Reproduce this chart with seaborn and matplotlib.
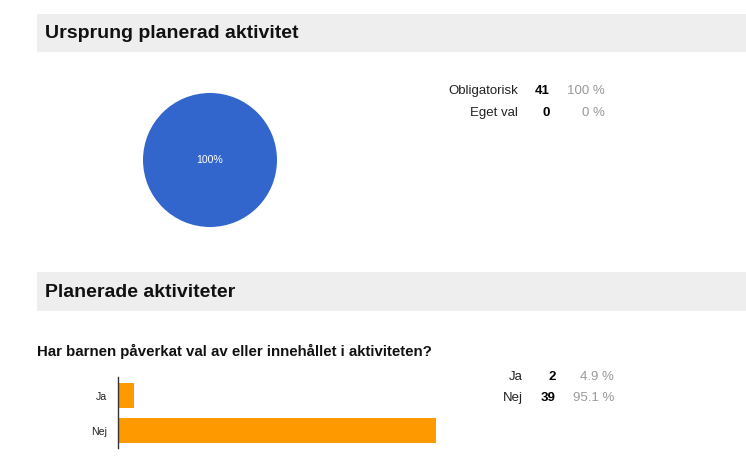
import matplotlib
matplotlib.use("Agg")
import matplotlib.pyplot as plt
from matplotlib.patches import Rectangle
import seaborn as sns
import pandas as pd

# ---- data ----
section1_title = "Ursprung planerad aktivitet"
origin_labels = ["Obligatorisk", "Eget val"]
origin_counts = [41, 0]
origin_pcts = ["100 %", "0 %"]

section2_title = "Planerade aktiviteter"
question = "Har barnen påverkat val av eller innehållet i aktiviteten?"
answer_labels = ["Ja", "Nej"]
answer_counts = [2, 39]
answer_pcts = ["4.9 %", "95.1 %"]

# ---- styling ----
sns.set_style("white")
plt.rcParams['font.family'] = ['Liberation Sans', 'DejaVu Sans']

W, H = 746, 466
DPI = 100
fig = plt.figure(figsize=(W / DPI, H / DPI), dpi=DPI)
fig.patch.set_facecolor("white")

def px(x, y):
    return x / W, 1 - y / H

def pt(p):
    return p * 72 / DPI

def axes_px(left, top, right, bottom):
    return fig.add_axes([left / W, 1 - bottom / H, (right - left) / W, (bottom - top) / H])

# section bands
for top, bot in [(14, 52), (272, 311)]:
    fig.patches.append(Rectangle((37 / W, 1 - bot / H), (W - 37) / W, (bot - top) / H,
                                 transform=fig.transFigure, facecolor="#eeeeee",
                                 edgecolor="none", zorder=0))

fig.text(*px(45, 33.5), section1_title, fontsize=pt(19.5), fontweight="bold",
         va="center", ha="left", color="#111111")
fig.text(*px(45, 292.5), section2_title, fontsize=pt(19.5), fontweight="bold",
         va="center", ha="left", color="#111111")
fig.text(*px(37, 351), question, fontsize=pt(15.0), fontweight="bold",
         va="center", ha="left", color="#111111")

# ---- pie ----
ax_pie = axes_px(143, 93, 277, 227)
ax_pie.pie(origin_counts, colors=["#3366cc", "#dc3912"], startangle=90,
           counterclock=False, pctdistance=0.0,
           autopct=lambda p: f"{p:.0f}%" if p > 0 else "",
           textprops=dict(color="white", fontsize=pt(10.5)),
           wedgeprops=dict(linewidth=0))
ax_pie.set_aspect("auto")
ax_pie.set_xlim(-1, 1)
ax_pie.set_ylim(-1, 1)
ax_pie.axis("off")

# ---- stats tables ----
def table(labels, counts, pcts, ys, xl, xc, xp):
    for lab, c, p, y in zip(labels, counts, pcts, ys):
        fig.text(*px(xl, y), lab, fontsize=pt(13.2), ha="right", va="center", color="#222222")
        fig.text(*px(xc, y), str(c), fontsize=pt(13.2), ha="right", va="center",
                 color="#000000", fontweight="bold")
        fig.text(*px(xp, y), p, fontsize=pt(13.2), ha="right", va="center", color="#999999")

table(origin_labels, origin_counts, origin_pcts, [91, 113], 518, 550, 605)
table(answer_labels, answer_counts, answer_pcts, [377, 398], 523, 556, 614)

# ---- bar chart ----
df = pd.DataFrame({"answer": answer_labels, "count": answer_counts})
ax_bar = axes_px(118, 377, 436, 448)
sns.barplot(data=df, y="answer", x="count", orient="h", color="#ff9900",
            saturation=1, width=0.71, ax=ax_bar)
ax_bar.set_xlim(0, 39)
ax_bar.set_ylim(1.5, -0.53)
ax_bar.set_xlabel("")
ax_bar.set_ylabel("")
ax_bar.set_xticks([])
ax_bar.tick_params(axis="y", length=0, pad=pt(11), labelsize=pt(10.5), labelcolor="#222222")
for s in ["top", "right", "bottom"]:
    ax_bar.spines[s].set_visible(False)
ax_bar.spines["left"].set_color("#333333")
ax_bar.spines["left"].set_linewidth(1)
ax_bar.set_facecolor("none")
for b in ax_bar.patches:
    b.set_edgecolor("none")

fig.savefig("out.png", dpi=DPI)
